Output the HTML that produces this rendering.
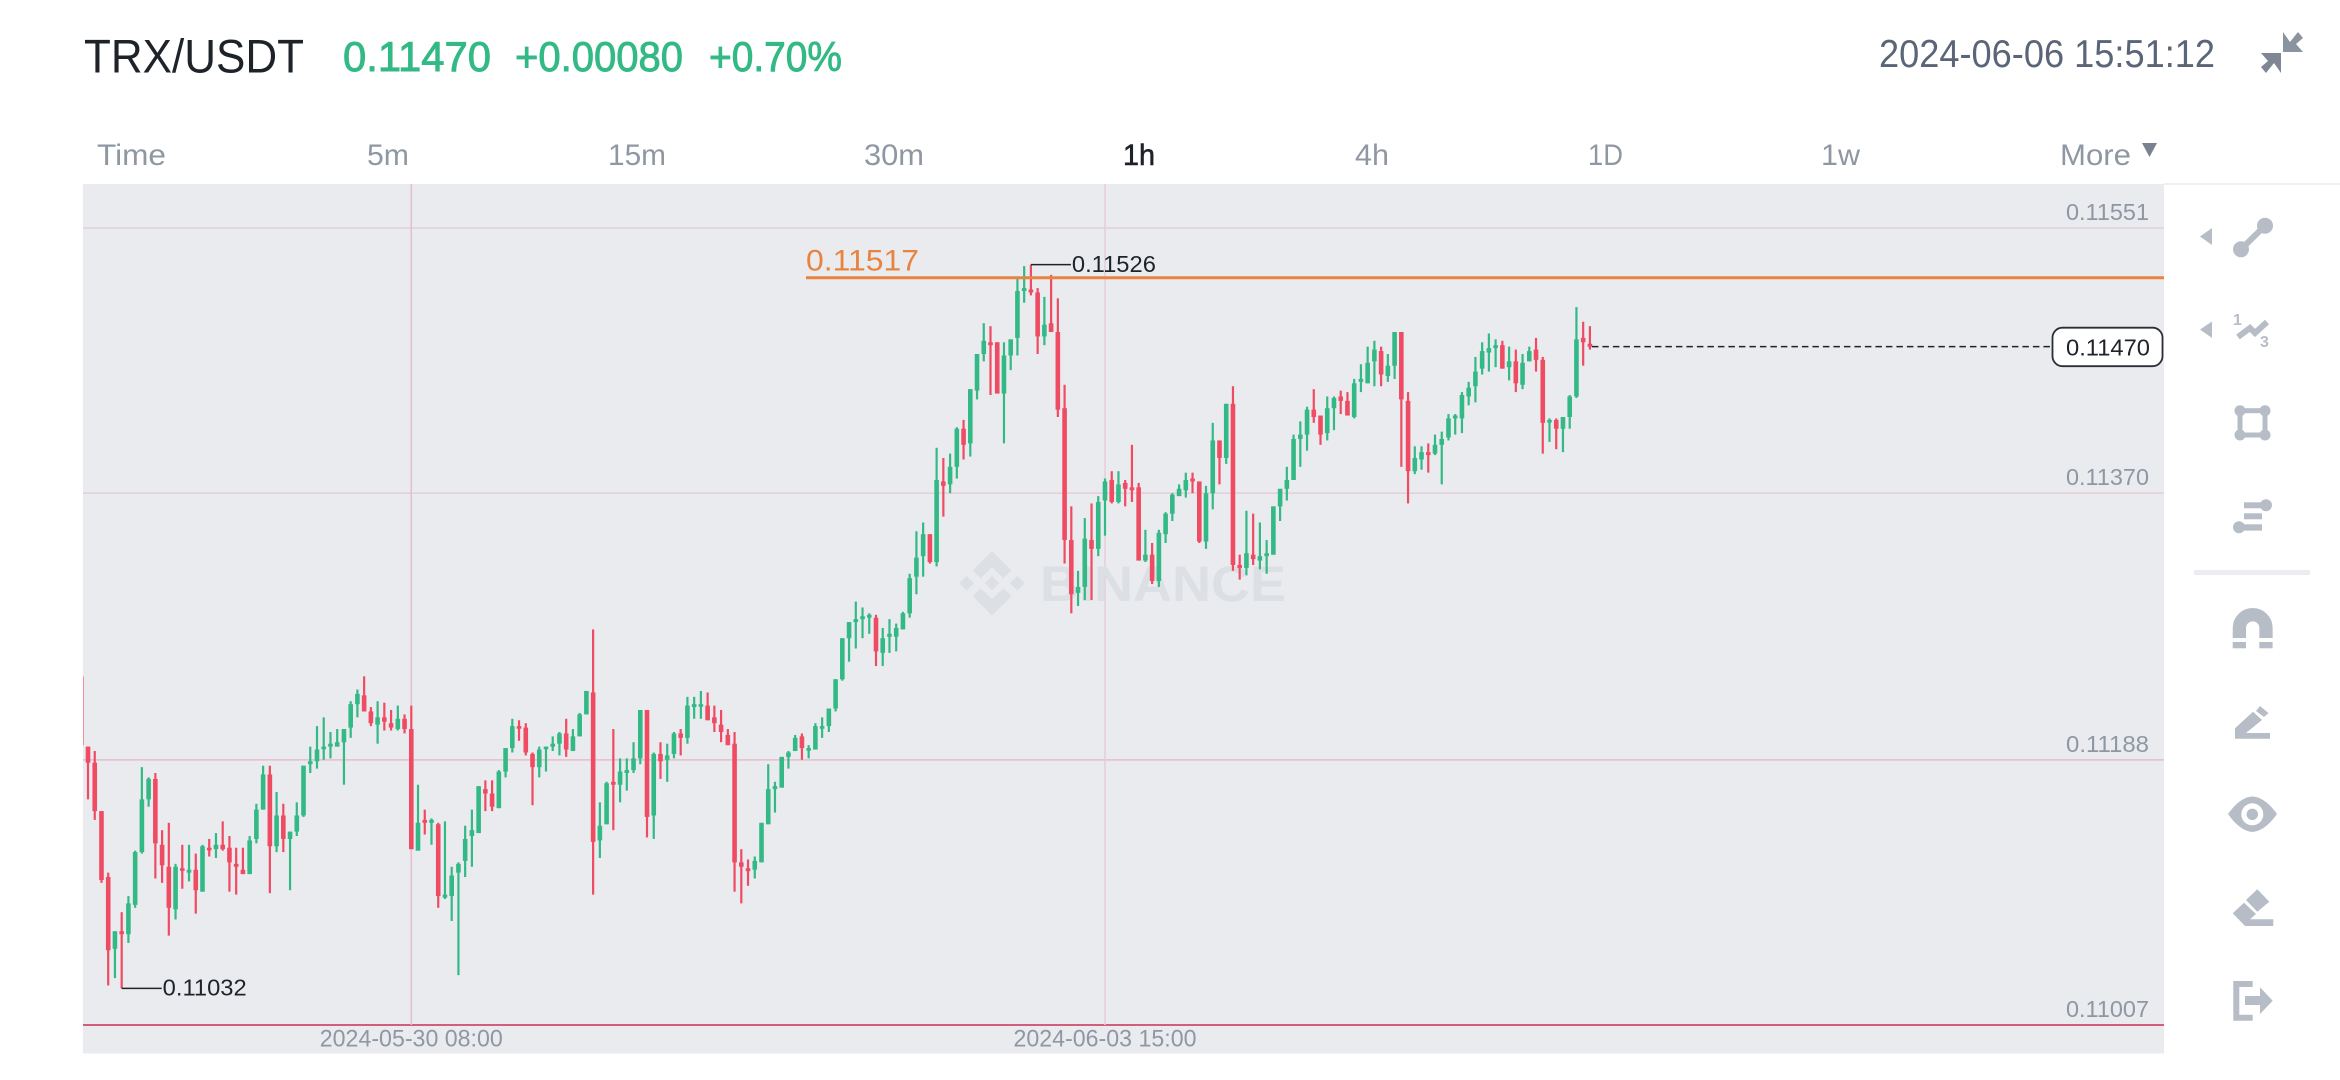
<!DOCTYPE html>
<html lang="en">
<head>
<meta charset="utf-8">
<title>TRX/USDT chart</title>
<style>
html,body{margin:0;padding:0;background:#fff;width:2340px;height:1080px;overflow:hidden}
svg{display:block}
text{font-family:"Liberation Sans",sans-serif}
</style>
</head>
<body>
<svg id="root" xmlns="http://www.w3.org/2000/svg" width="2340" height="1080" viewBox="0 0 2340 1080">
  <defs><clipPath id="plot-clip"><rect x="83" y="184" width="2081" height="869.5"/></clipPath></defs>
  <rect x="0" y="0" width="2340" height="1080" fill="#ffffff"/>

  <g>
    <text x="84" y="72.5" font-size="47" fill="#1e2329" textLength="220" lengthAdjust="spacingAndGlyphs">TRX/USDT</text>
    <text x="343" y="71" font-size="42" fill="#33b985" stroke="#33b985" stroke-width="0.9" textLength="148" lengthAdjust="spacingAndGlyphs">0.11470</text>
    <text x="515" y="71" font-size="42" fill="#33b985" stroke="#33b985" stroke-width="0.9" textLength="168" lengthAdjust="spacingAndGlyphs">+0.00080</text>
    <text x="709" y="71" font-size="42" fill="#33b985" stroke="#33b985" stroke-width="0.9" textLength="133" lengthAdjust="spacingAndGlyphs">+0.70%</text>
    <text x="1879" y="67" font-size="39" fill="#5b6578" textLength="336" lengthAdjust="spacingAndGlyphs">2024-06-06 15:51:12</text>
    <g>
      <path d="M2283,32 L2290,42 L2298,32 L2303,38 L2296,44 L2303,52 L2283,52 Z" fill="#8a93a0"/>
      <path d="M2281,73 L2274,63 L2266,73 L2261,67 L2268,61 L2261,53 L2281,53 Z" fill="#7f8794"/>
    </g>
  </g>

  <g font-size="30" fill="#8f97a3">
    <text x="97" y="165" textLength="69" lengthAdjust="spacingAndGlyphs">Time</text>
    <text x="367" y="165" textLength="42" lengthAdjust="spacingAndGlyphs">5m</text>
    <text x="608" y="165" textLength="58" lengthAdjust="spacingAndGlyphs">15m</text>
    <text x="864" y="165" textLength="60" lengthAdjust="spacingAndGlyphs">30m</text>
    <text x="1123" y="165" fill="#1e2329" stroke="#1e2329" stroke-width="0.6" textLength="32" lengthAdjust="spacingAndGlyphs">1h</text>
    <text x="1355" y="165" textLength="34" lengthAdjust="spacingAndGlyphs">4h</text>
    <text x="1588" y="165" textLength="35" lengthAdjust="spacingAndGlyphs">1D</text>
    <text x="1821" y="165" textLength="39" lengthAdjust="spacingAndGlyphs">1w</text>
    <text x="2060" y="165" textLength="71" lengthAdjust="spacingAndGlyphs">More</text>
    <path d="M2142,143 H2157 L2149.5,157 Z" fill="#7a8290"/>
  </g>

  <rect x="2164" y="183" width="176" height="2" fill="#eeeff1"/>
  <rect x="83" y="184" width="2081" height="869.5" fill="#eaebef"/>

  <g id="grid"></g>

  <g fill="#dcdfe3" transform="translate(992,583.3)">
    <path d="M-19.3,-12.7 L0,-32.3 L19.7,-12.7 L11.3,-5 L0,-16 L-11.3,-5 Z"/>
    <path d="M-19.3,12.7 L0,32.3 L19.7,12.7 L11.3,5 L0,16 L-11.3,5 Z"/>
    <path d="M-32.6,0 L-25.3,-7.3 L-18,0 L-25.3,7.3 Z"/>
    <path d="M18,0 L25.3,-7.3 L32.6,0 L25.3,7.3 Z"/>
    <path d="M-7.3,0 L0,-7.3 L7.3,0 L0,7.3 Z"/>
    <text x="48" y="17.7" font-size="50" font-weight="700" textLength="246" lengthAdjust="spacingAndGlyphs">BINANCE</text>
  </g>

  <g id="candles" clip-path="url(#plot-clip)"></g>
  <g id="overlays"></g>
  <g id="axis-labels"></g>

  <g fill="#b7bdc6" stroke="none">
    <path d="M2200,236.5 L2212,228 V245 Z"/>
    <g>
      <path d="M2241,249.3 L2265,225.7" stroke="#b7bdc6" stroke-width="6" fill="none"/>
      <circle cx="2265" cy="225.7" r="8"/><circle cx="2241" cy="249.3" r="8"/>
    </g>
    <path d="M2200,329.5 L2212,321.5 V338 Z"/>
    <g>
      <path d="M2238,337 L2250,328 L2255,333 L2267,322" stroke="#b7bdc6" stroke-width="6" fill="none"/>
      <text x="2233" y="325" font-size="16" font-weight="700">1</text>
      <text x="2260" y="347" font-size="16" font-weight="700">3</text>
    </g>
    <g>
      <rect x="2240" y="410.7" width="25" height="24.3" fill="none" stroke="#b7bdc6" stroke-width="5"/>
      <circle cx="2240" cy="410.7" r="5.5"/><circle cx="2265" cy="410.7" r="5.5"/><circle cx="2240" cy="435" r="5.5"/><circle cx="2265" cy="435" r="5.5"/>
    </g>
    <g>
      <rect x="2244" y="502.3" width="18" height="6"/><circle cx="2266" cy="505.3" r="6"/>
      <rect x="2244" y="513.3" width="18" height="6"/>
      <rect x="2240" y="524.3" width="22" height="6.3"/><circle cx="2239" cy="527.3" r="6"/>
    </g>
    <rect x="2194" y="570" width="116" height="5" fill="#ecedf0"/>
    <g>
      <path d="M2239.4,638 V628 A13.3,13.3 0 0 1 2266,628 V638" fill="none" stroke="#b7bdc6" stroke-width="13.3"/>
      <rect x="2232.7" y="642" width="13.3" height="6.3"/><rect x="2259.3" y="642" width="13.3" height="6.3"/>
    </g>
    <g>
      <path d="M2235,738.7 V728.3 L2253,711.7 L2262,720 L2246,733 H2270 V738.7 Z"/>
      <path d="M2256,711 L2260,706 L2268.5,713 L2264,717 Z"/>
    </g>
    <g>
      <path d="M2228,814 Q2240,797 2252.3,796.5 Q2265,797 2277,814 Q2265,831 2252.3,832 Q2240,831 2228,814 Z"/>
      <circle cx="2252.3" cy="814.3" r="11" fill="#ffffff"/>
      <circle cx="2252.3" cy="814.3" r="5.7"/>
    </g>
    <g>
      <path d="M2257.3,889.3 L2269.3,901.7 L2257.3,911.7 L2246,900 Z"/>
      <path d="M2232.7,913.3 L2244,902.7 L2256,914 L2250,919.3 H2273.3 V926 H2245 Z"/>
    </g>
    <g>
      <path d="M2252.7,981 H2233.3 V1020.7 H2252.7 V1014.7 H2239.3 V987 H2252.7 Z"/>
      <path d="M2245,996 H2260 V987.3 L2272.7,1000.7 L2260,1014 V1005 H2245 Z"/>
    </g>
  </g>
</svg>

<script>
// Prices in units of 0.00001 USDT, one value per 1h candle, oldest first.
const opens = [
11245,11197,11186,11153,11108,11059,11071,11069,11089,11125,
11161,11175,11130,11115,11086,11114,11111,11113,11098,11128,
11127,11130,11128,11117,11113,11110,11134,11154,11178,11129,
11150,11134,11139,11150,11185,11187,11196,11197,11197,11200,
11210,11226,11232,11221,11212,11217,11213,11209,11216,11209,
11126,11147,11145,11144,11094,11095,11111,11119,11136,11138,
11168,11165,11155,11180,11196,11211,11210,11192,11183,11196,
11197,11199,11206,11194,11204,11219,11234,11133,11144,11173,
11171,11179,11181,11189,11222,11150,11192,11188,11192,11206,
11203,11224,11225,11225,11217,11212,11205,11199,11118,11114,
11113,11118,11144,11168,11169,11190,11194,11204,11195,11195,
11210,11211,11223,11243,11271,11282,11284,11285,11285,11261,
11272,11272,11277,11288,11313,11327,11342,11323,11378,11376,
11388,11414,11404,11440,11465,11473,11473,11438,11464,11476,
11508,11509,11507,11477,11486,11480,11428,11338,11302,11306,
11338,11332,11365,11379,11364,11377,11374,11374,11324,11328,
11310,11342,11356,11368,11372,11380,11378,11337,11370,11406,
11394,11431,11321,11319,11328,11324,11327,11328,11361,11373,
11379,11407,11410,11427,11423,11411,11428,11436,11433,11422,
11446,11445,11460,11467,11450,11457,11480,11433,11385,11393,
11398,11397,11403,11408,11421,11421,11436,11443,11455,11466,
11469,11471,11456,11460,11444,11460,11468,11461,11419,11420,
11414,11422,11436,11476,11472];
const highs = [
11245,11197,11194,11153,11111,11071,11084,11095,11126,11183,
11176,11179,11140,11145,11117,11130,11130,11124,11130,11134,
11138,11146,11136,11128,11128,11136,11158,11184,11184,11166,
11158,11139,11159,11184,11197,11211,11217,11207,11209,11209,
11228,11236,11245,11224,11228,11227,11222,11225,11219,11225,
11171,11154,11148,11145,11146,11115,11118,11143,11154,11170,
11174,11174,11181,11196,11216,11215,11213,11193,11197,11197,
11204,11207,11216,11209,11220,11235,11277,11159,11173,11209,
11189,11189,11200,11222,11222,11193,11200,11199,11207,11209,
11231,11231,11235,11234,11225,11222,11209,11207,11127,11120,
11122,11145,11185,11173,11190,11194,11205,11206,11198,11213,
11217,11223,11243,11271,11282,11296,11292,11288,11287,11278,
11284,11281,11289,11315,11344,11350,11342,11401,11394,11397,
11415,11420,11441,11465,11486,11484,11473,11473,11475,11517,
11525,11526,11510,11504,11519,11503,11444,11361,11317,11353,
11363,11368,11380,11385,11385,11379,11403,11377,11345,11336,
11345,11357,11370,11376,11384,11384,11378,11375,11418,11406,
11431,11443,11328,11358,11356,11350,11338,11361,11373,11388,
11410,11419,11429,11441,11423,11436,11436,11440,11439,11448,
11458,11470,11474,11470,11465,11480,11480,11439,11402,11402,
11404,11410,11412,11424,11424,11439,11446,11463,11473,11479,
11475,11474,11470,11468,11465,11470,11476,11463,11421,11421,
11422,11437,11497,11487,11484];
const lows = [
11198,11161,11147,11104,11034,11039,11032,11063,11087,11124,
11156,11107,11104,11068,11079,11100,11105,11083,11098,11122,
11121,11126,11098,11096,11110,11110,11131,11154,11097,11125,
11125,11099,11136,11149,11179,11182,11188,11189,11197,11171,
11203,11217,11221,11211,11199,11208,11208,11208,11206,11127,
11126,11137,11130,11087,11093,11078,11041,11108,11115,11138,
11153,11153,11155,11176,11193,11201,11191,11157,11176,11180,
11194,11191,11190,11194,11204,11219,11096,11121,11144,11140,
11159,11167,11179,11185,11135,11134,11175,11173,11189,11191,
11199,11216,11216,11215,11207,11200,11198,11098,11090,11102,
11107,11118,11144,11152,11169,11182,11194,11188,11189,11195,
11203,11207,11221,11242,11255,11264,11271,11274,11252,11252,
11261,11262,11277,11285,11301,11313,11322,11320,11354,11370,
11380,11393,11395,11434,11460,11437,11438,11404,11454,11464,
11500,11505,11465,11471,11480,11422,11322,11288,11293,11297,
11297,11327,11341,11363,11363,11361,11364,11324,11323,11308,
11306,11336,11351,11368,11367,11370,11336,11332,11359,11376,
11390,11317,11311,11314,11321,11318,11315,11328,11351,11365,
11379,11388,11399,11418,11403,11406,11413,11424,11423,11421,
11439,11445,11443,11443,11446,11448,11388,11363,11383,11386,
11384,11396,11376,11406,11410,11411,11430,11432,11451,11453,
11456,11455,11447,11439,11441,11460,11453,11397,11405,11400,
11398,11414,11435,11457,11468];
const closes = [
11198,11186,11153,11106,11058,11071,11069,11090,11125,11161,
11175,11131,11116,11087,11115,11113,11113,11099,11129,11127,
11130,11127,11118,11115,11110,11133,11154,11178,11129,11150,
11134,11139,11150,11184,11187,11195,11197,11199,11200,11209,
11226,11233,11221,11213,11217,11214,11210,11216,11209,11127,
11145,11145,11147,11095,11096,11109,11117,11134,11140,11170,
11165,11156,11180,11196,11211,11210,11193,11183,11195,11197,
11199,11206,11195,11204,11219,11235,11132,11143,11172,11171,
11180,11181,11189,11222,11149,11192,11187,11191,11206,11203,
11225,11226,11226,11215,11213,11207,11198,11118,11115,11112,
11119,11145,11168,11170,11190,11193,11203,11196,11196,11211,
11211,11223,11243,11271,11282,11284,11286,11287,11262,11271,
11274,11278,11288,11312,11326,11342,11323,11379,11375,11388,
11414,11403,11441,11465,11474,11471,11438,11464,11475,11508,
11510,11507,11477,11485,11480,11427,11338,11301,11306,11339,
11332,11364,11378,11364,11376,11373,11372,11324,11328,11310,
11343,11356,11369,11373,11379,11378,11337,11370,11406,11394,
11431,11321,11319,11329,11325,11327,11329,11361,11373,11379,
11407,11410,11427,11422,11410,11428,11435,11433,11423,11445,
11448,11459,11468,11451,11457,11480,11434,11385,11394,11398,
11396,11403,11407,11421,11423,11437,11442,11453,11467,11469,
11471,11455,11460,11445,11459,11467,11461,11418,11420,11414,
11422,11436,11475,11473,11470];
const priceTicks = [11551,11370,11188,11007];
const timeTickIndexes = [49,152];
const timeTickLabels = ["2024-05-30 08:00","2024-06-03 15:00"];
const drawnLevel = 11517;

const NS = "http://www.w3.org/2000/svg";
const GREEN = "#33b985";
const RED = "#ef4b62";
const INK = "#1e2329";
const AXIS_INK = "#8f97a3";
const PLOT_LEFT = 83;
const PLOT_RIGHT = 2164;
const PLOT_BOTTOM_GRID = 1025;
const PLOT_TOP = 184;

function xScale(index) { return 81.27 + 6.735 * index; }
function yScale(price) { return 228 + (11551 - price) * 1.46507; }
function formatPrice(price) { return (price / 100000).toFixed(5); }
function node(tag, parent) {
  const el = document.createElementNS(NS, tag);
  parent.appendChild(el);
  return el;
}

const grid = document.getElementById("grid");
const candlesLayer = document.getElementById("candles");
const overlays = document.getElementById("overlays");
const axisLayer = document.getElementById("axis-labels");

// horizontal grid lines and price tick labels
priceTicks.forEach(function (tick, k) {
  const y = yScale(tick);
  const isBottom = k === priceTicks.length - 1;
  const line = node("line", grid);
  
  
  line.setAttribute("x1", PLOT_LEFT);
  line.setAttribute("x2", PLOT_RIGHT);
  line.setAttribute("y1", y);
  line.setAttribute("y2", y);
  line.setAttribute("stroke", isBottom ? "#cf5f7d" : (k === 2 ? "#e8bccb" : "#e6ccd6"));
  line.setAttribute("stroke-width", isBottom ? 2 : 1.5);
  const label = node("text", axisLayer);
  
  
  label.setAttribute("x", 2066);
  label.setAttribute("y", y - 8);
  label.setAttribute("font-size", 23);
  label.setAttribute("fill", AXIS_INK);
  label.setAttribute("textLength", 83);
  label.setAttribute("lengthAdjust", "spacingAndGlyphs");
  label.textContent = formatPrice(tick);
});

// vertical grid lines and time tick labels
timeTickIndexes.forEach(function (index, k) {
  const x = xScale(index);
  const line = node("line", grid);
  
  
  line.setAttribute("x1", x);
  line.setAttribute("x2", x);
  line.setAttribute("y1", PLOT_TOP);
  line.setAttribute("y2", PLOT_BOTTOM_GRID);
  line.setAttribute("stroke", k === 0 ? "#e6bdcb" : "#e6cdd7");
  line.setAttribute("stroke-width", 1.5);
  const label = node("text", axisLayer);
  
  
  label.setAttribute("x", x);
  label.setAttribute("y", 1046.5);
  label.setAttribute("font-size", 24);
  label.setAttribute("fill", AXIS_INK);
  label.setAttribute("text-anchor", "middle");
  label.setAttribute("textLength", 183);
  label.setAttribute("lengthAdjust", "spacingAndGlyphs");
  label.textContent = timeTickLabels[k];
});

// candles
opens.forEach(function (open, i) {
  const close = closes[i];
  const color = close >= open ? GREEN : RED;
  const x = xScale(i);
  const g = node("g", candlesLayer);
  
  
  const wick = node("rect", g);
  
  
  wick.setAttribute("x", x - 1.1);
  wick.setAttribute("width", 2.2);
  wick.setAttribute("y", yScale(highs[i]));
  wick.setAttribute("height", yScale(lows[i]) - yScale(highs[i]));
  wick.setAttribute("fill", color);
  const bodyTop = yScale(Math.max(open, close));
  const bodyBottom = yScale(Math.min(open, close));
  const body = node("rect", g);
  
  
  body.setAttribute("x", x - 2.3);
  body.setAttribute("width", 4.6);
  body.setAttribute("y", bodyTop);
  body.setAttribute("height", Math.max(2.6, bodyBottom - bodyTop));
  body.setAttribute("fill", color);
});

// user-drawn horizontal level
const levelY = yScale(drawnLevel);
const levelLine = node("line", overlays);


levelLine.setAttribute("x1", 806);
levelLine.setAttribute("x2", PLOT_RIGHT);
levelLine.setAttribute("y1", levelY);
levelLine.setAttribute("y2", levelY);
levelLine.setAttribute("stroke", "#e8843f");
levelLine.setAttribute("stroke-width", 3);
const levelLabel = node("text", overlays);


levelLabel.setAttribute("x", 806);
levelLabel.setAttribute("y", levelY - 7.5);
levelLabel.setAttribute("font-size", 30);
levelLabel.setAttribute("fill", "#e8843f");
levelLabel.setAttribute("textLength", 113);
levelLabel.setAttribute("lengthAdjust", "spacingAndGlyphs");
levelLabel.textContent = formatPrice(drawnLevel);

// highest and lowest price callouts
const maxHigh = Math.max.apply(null, highs);
const minLow = Math.min.apply(null, lows);
const maxIndex = highs.indexOf(maxHigh);
const minIndex = lows.indexOf(minLow);

const highLeader = node("line", overlays);


highLeader.setAttribute("x1", xScale(maxIndex));
highLeader.setAttribute("x2", xScale(maxIndex) + 40);
highLeader.setAttribute("y1", yScale(maxHigh));
highLeader.setAttribute("y2", yScale(maxHigh));
highLeader.setAttribute("stroke", INK);
highLeader.setAttribute("stroke-width", 1.5);
const highLabel = node("text", overlays);


highLabel.setAttribute("x", xScale(maxIndex) + 41);
highLabel.setAttribute("y", yScale(maxHigh) + 7.5);
highLabel.setAttribute("font-size", 23);
highLabel.setAttribute("fill", INK);
highLabel.setAttribute("textLength", 84);
highLabel.setAttribute("lengthAdjust", "spacingAndGlyphs");
highLabel.textContent = formatPrice(maxHigh);

const lowLeader = node("line", overlays);


lowLeader.setAttribute("x1", xScale(minIndex));
lowLeader.setAttribute("x2", xScale(minIndex) + 40);
lowLeader.setAttribute("y1", yScale(minLow));
lowLeader.setAttribute("y2", yScale(minLow));
lowLeader.setAttribute("stroke", INK);
lowLeader.setAttribute("stroke-width", 1.5);
const lowLabel = node("text", overlays);


lowLabel.setAttribute("x", xScale(minIndex) + 41);
lowLabel.setAttribute("y", yScale(minLow) + 7);
lowLabel.setAttribute("font-size", 23);
lowLabel.setAttribute("fill", INK);
lowLabel.setAttribute("textLength", 84);
lowLabel.setAttribute("lengthAdjust", "spacingAndGlyphs");
lowLabel.textContent = formatPrice(minLow);

// last price dashed line and badge
const lastIndex = closes.length - 1;
const lastPrice = closes[lastIndex];
const lastY = yScale(lastPrice);
const lastLine = node("line", overlays);


lastLine.setAttribute("x1", xScale(lastIndex) + 2);
lastLine.setAttribute("x2", 2052);
lastLine.setAttribute("y1", lastY);
lastLine.setAttribute("y2", lastY);
lastLine.setAttribute("stroke", INK);
lastLine.setAttribute("stroke-width", 1.5);
lastLine.setAttribute("stroke-dasharray", "6.5 4");
const badge = node("rect", overlays);


badge.setAttribute("x", 2052.5);
badge.setAttribute("y", lastY - 19);
badge.setAttribute("width", 110);
badge.setAttribute("height", 38.5);
badge.setAttribute("rx", 10);
badge.setAttribute("fill", "#ffffff");
badge.setAttribute("stroke", "#2a2e35");
badge.setAttribute("stroke-width", 1.8);
const badgeText = node("text", overlays);


badgeText.setAttribute("x", 2066);
badgeText.setAttribute("y", lastY + 8.7);
badgeText.setAttribute("font-size", 23);
badgeText.setAttribute("fill", INK);
badgeText.setAttribute("textLength", 84);
badgeText.setAttribute("lengthAdjust", "spacingAndGlyphs");
badgeText.textContent = formatPrice(lastPrice);
</script>
</body>
</html>
